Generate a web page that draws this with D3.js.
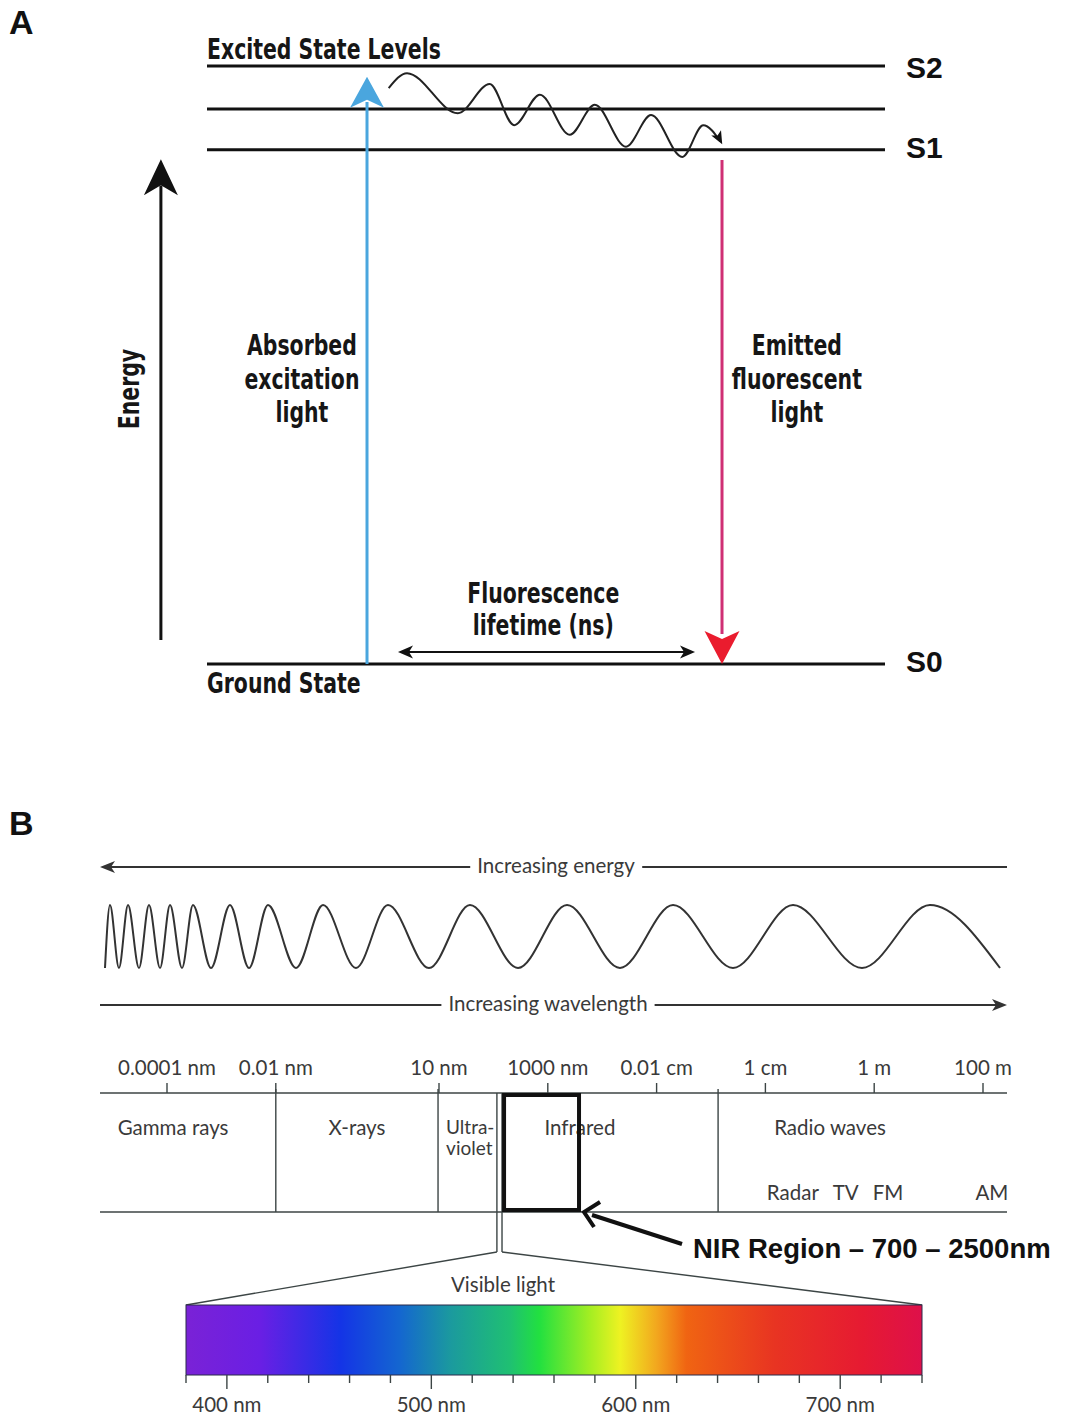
<!DOCTYPE html>
<html>
<head>
<meta charset="utf-8">
<script src="https://cdn.jsdelivr.net/npm/d3@7"></script>
<style>
body { margin: 0; background: #fff; }
.cond { font-family: "Liberation Sans Narrow", "DejaVu Sans", sans-serif; font-weight: bold; fill: #161616; }
.arial { font-family: "Liberation Sans", Arial, sans-serif; font-weight: bold; fill: #111; }
.geo { font-family: Lato, "Open Sans", sans-serif; fill: #3a3a3a; }
</style>
</head>
<body>
<div id="chart"></div>
<script>

// ---- panel A data (energy levels, energy in % of S0..S2, x in % of level width)
var levelNames  = ["S0", "S1", "", "S2"];
var levelEnergy = [0, 86, 92.8, 100];

// vibrational relaxation squiggle
var relaxX = [26.8, 29.5, 37.0, 41.7, 45.3, 49.1, 53.5, 57.2, 61.8, 65.5, 70.1, 73.2, 75.7];
var relaxE = [96.3, 98.8, 92.1, 97.0, 90.1, 95.2, 88.5, 93.5, 86.5, 91.8, 84.8, 90.1, 87.4];

var absorbLabel = ["Absorbed", "excitation", "light"];
var emitLabel = ["Emitted", "fluorescent", "light"];
var lifetimeLabel = ["Fluorescence", "lifetime (ns)"];

// ---- panel B data
var tickValues = [1e-13, 1e-11, 1e-8, 1e-6, 1e-4, 1e-2, 1, 100];
var tickLabels = ["0.0001 nm", "0.01 nm", "10 nm", "1000 nm", "0.01 cm", "1 cm", "1 m", "100 m"];
var dividers = [1e-11, 9.6e-9, 1.35e-3];
var visibleBand = [1.16e-7, 1.44e-7];
var nirBox = [1.57e-7, 3.75e-6];

var bandNames = ["Gamma rays", "X-rays", "Infrared", "Radio waves"];
var bandAt = [1.29e-13, 3.1e-10, 3.9e-6, 0.154];
var radioNames = ["Radar", "TV", "FM", "AM"];
var radioAt = [0.032, 0.30, 1.8, 146];
var uvAt = 1.35e-8;

// wave extrema (percent of the arrow width), alternating trough / crest
var waveX = [0.55, 1.10, 2.09, 3.09, 4.30, 5.40, 6.62, 7.72, 9.04, 10.25, 12.24, 14.33, 16.43,
    18.52, 21.61, 24.59, 28.22, 31.75, 36.27, 40.79, 46.09, 51.49, 57.33, 63.18, 69.79,
    76.41, 84.01, 91.51, 99.23];

// visible spectrum
var specTicks = d3.range(380, 741, 20);
var specLabels = [400, 500, 600, 700];
var specStops = [
    [0.00, "#7a22d6"], [0.10, "#6a1fe4"], [0.21, "#1434e6"], [0.29, "#1466d0"],
    [0.36, "#1b9a9e"], [0.44, "#1fc072"], [0.48, "#22e040"], [0.55, "#a6ee22"],
    [0.59, "#eef222"], [0.64, "#f2a61e"], [0.68, "#f06412"], [0.80, "#e83422"],
    [0.92, "#e61a32"], [1.00, "#de104a"]
];

var W = 1065, H = 1416;
var svg = d3.select("#chart").append("svg")
    .attr("width", W)
    .attr("height", H);

// arrowhead with notched back, tip at (x,y)
function head(g, x, y, ang, len, wid, notch, fill) {
    g.append("path")
        .attr("d", "M0,0L" + (-len) + "," + (-wid / 2) + "L" + (-len + notch) + ",0L" + (-len) + "," + (wid / 2) + "Z")
        .attr("transform", "translate(" + x + "," + y + ") rotate(" + ang + ")")
        .attr("fill", fill);
}

// bold text squeezed sideways to look like a condensed face
function condText(g, x, y, txt, anchor, rot) {
    return g.append("text").attr("class", "cond")
        .attr("transform", "translate(" + x + "," + y + ")" + (rot ? " rotate(" + rot + ")" : "") + " scale(0.73,1)")
        .attr("text-anchor", anchor || "start")
        .style("font-size", "28px")
        .text(txt);
}

/* ================= Panel A ================= */
var gA = svg.append("g");
var xA = d3.scaleLinear().domain([0, 100]).range([207, 885]);
var yA = d3.scaleLinear().domain([0, 100]).range([664, 66]);

gA.append("text").attr("class", "arial").attr("x", 9).attr("y", 34)
    .style("font-size", "34px").text("A");

gA.selectAll(".level")
    .data(levelEnergy)
    .enter().append("line")
    .attr("class", "level")
    .attr("x1", xA(0)).attr("x2", xA(100))
    .attr("y1", function(d) { return yA(d); })
    .attr("y2", function(d) { return yA(d); })
    .attr("stroke", "#111").attr("stroke-width", 3);

gA.selectAll(".lname")
    .data(levelNames)
    .enter().append("text")
    .attr("class", "arial lname")
    .attr("x", xA(103.1))
    .attr("y", function(d, i) { return yA(levelEnergy[i]) + (i === 3 ? 12 : 8); })
    .style("font-size", "30px")
    .text(function(d) { return d; });

condText(gA, xA(0), 59, "Excited State Levels");
condText(gA, xA(0), 693, "Ground State");

// energy axis arrow
gA.append("line")
    .attr("x1", xA(-6.8)).attr("x2", xA(-6.8))
    .attr("y1", yA(4)).attr("y2", yA(80))
    .attr("stroke", "#111").attr("stroke-width", 3);
head(gA, xA(-6.8), yA(84.4), -90, 36, 34, 10, "#111");
condText(gA, 139, 389, "Energy", "middle", -90);

// absorbed (blue) arrow
gA.append("line")
    .attr("x1", xA(23.6)).attr("x2", xA(23.6))
    .attr("y1", yA(0)).attr("y2", yA(94))
    .attr("stroke", "#4aa6de").attr("stroke-width", 3);
head(gA, xA(23.6), yA(98.2), -90, 31, 34, 8, "#4aa6de");

// emitted (red) arrow
gA.append("line")
    .attr("x1", xA(75.96)).attr("x2", xA(75.96))
    .attr("y1", yA(84.3)).attr("y2", yA(5))
    .attr("stroke", "#cf2f74").attr("stroke-width", 3);
head(gA, xA(75.96), yA(0), 90, 33, 35, 8, "#ea1c2e");

// relaxation squiggle
var relaxLine = d3.line()
    .x(function(d, i) { return xA(d); })
    .y(function(d, i) { return yA(relaxE[i]); })
    .curve(d3.curveMonotoneX);
gA.append("path")
    .attr("d", relaxLine(relaxX))
    .attr("fill", "none").attr("stroke", "#222").attr("stroke-width", 2);
head(gA, xA(relaxX[relaxX.length - 1]) + 2, yA(relaxE[relaxE.length - 1]) + 3, 62, 13, 11, 3, "#111");

// lifetime double arrow
gA.append("line")
    .attr("x1", xA(29.5)).attr("x2", xA(70.6))
    .attr("y1", yA(2)).attr("y2", yA(2))
    .attr("stroke", "#111").attr("stroke-width", 2);
head(gA, xA(28.17), yA(2), 180, 15, 13, 4, "#111");
head(gA, xA(71.98), yA(2), 0, 15, 13, 4, "#111");

function block(lines, cx, y0, dy) {
    lines.forEach(function(t, i) {
        condText(gA, cx, y0 + i * dy, t, "middle");
    });
}
block(absorbLabel, xA(14.0), 355, 33.5);
block(emitLabel, xA(87.0), 355, 33.5);
block(lifetimeLabel, xA(49.6), 603, 32);

/* ================= Panel B ================= */
var gB = svg.append("g");
var ink = "#3c4545";
var fs = "20.5px";

gB.append("text").attr("class", "arial").attr("x", 9).attr("y", 835)
    .style("font-size", "34px").text("B");

var xW = d3.scaleLinear().domain([0, 100]).range([100, 1007]);

// arrow with caption in a gap
function captionArrow(label, cx, y, dir) {
    var t = gB.append("text").attr("class", "geo")
        .attr("x", cx).attr("y", y + 6)
        .attr("text-anchor", "middle")
        .style("font-size", fs).text(label);
    var bb = t.node().getBBox();
    gB.append("line").attr("x1", xW(0) + (dir < 0 ? 4 : 0)).attr("x2", bb.x - 7)
        .attr("y1", y).attr("y2", y).attr("stroke", "#333").attr("stroke-width", 2);
    gB.append("line").attr("x1", bb.x + bb.width + 7).attr("x2", xW(100) - (dir > 0 ? 4 : 0))
        .attr("y1", y).attr("y2", y).attr("stroke", "#333").attr("stroke-width", 2);
    if (dir < 0) head(gB, xW(0), y, 180, 15, 12, 4, "#333");
    else head(gB, xW(100), y, 0, 15, 12, 4, "#333");
}
captionArrow("Increasing energy", 556, 867, -1);
captionArrow("Increasing wavelength", 548, 1005, 1);

// the wave
var yWave = d3.scaleLinear().domain([-1, 1]).range([968, 905]);
var waveLine = d3.line()
    .x(function(d) { return xW(d); })
    .y(function(d, i) { return yWave(i % 2 === 0 ? -1 : 1); })
    .curve(d3.curveMonotoneX);
gB.append("path")
    .attr("d", waveLine(waveX))
    .attr("fill", "none").attr("stroke", "#333").attr("stroke-width", 2);

// log wavelength scale
var xL = d3.scaleLog().domain([1e-13, 1e2]).range([167, 983]);
var yTop = 1093, yBot = 1212;

[yTop, yBot].forEach(function(y) {
    gB.append("line").attr("x1", xW(0)).attr("x2", xW(100))
        .attr("y1", y).attr("y2", y).attr("stroke", ink).attr("stroke-width", 1.6);
});

gB.selectAll(".tick")
    .data(tickValues)
    .enter().append("line")
    .attr("x1", function(d) { return xL(d); })
    .attr("x2", function(d) { return xL(d); })
    .attr("y1", 1083).attr("y2", yTop)
    .attr("stroke", ink).attr("stroke-width", 1.4);

gB.selectAll(".tlab")
    .data(tickLabels)
    .enter().append("text")
    .attr("class", "geo")
    .attr("x", function(d, i) { return xL(tickValues[i]); })
    .attr("y", 1075)
    .attr("text-anchor", "middle")
    .style("font-size", fs)
    .text(function(d) { return d; });

gB.selectAll(".div")
    .data(dividers)
    .enter().append("line")
    .attr("x1", function(d) { return xL(d); })
    .attr("x2", function(d) { return xL(d); })
    .attr("y1", 1089).attr("y2", yBot)
    .attr("stroke", ink).attr("stroke-width", 1.4);

// visible band pair, running down to the fan
var yFan = 1252, ySpec = 1305, ySpecB = 1375;
var xS = d3.scaleLinear().domain([380, 740]).range([186, 922]);

visibleBand.forEach(function(v, i) {
    gB.append("line").attr("x1", xL(v)).attr("x2", xL(v))
        .attr("y1", yTop).attr("y2", yFan).attr("stroke", ink).attr("stroke-width", 1.4);
    gB.append("line").attr("x1", xL(v)).attr("x2", xS(i === 0 ? 380 : 740))
        .attr("y1", yFan).attr("y2", ySpec).attr("stroke", ink).attr("stroke-width", 1.4);
});

gB.selectAll(".band")
    .data(bandNames)
    .enter().append("text")
    .attr("class", "geo")
    .attr("x", function(d, i) { return xL(bandAt[i]); })
    .attr("y", 1135)
    .attr("text-anchor", "middle")
    .style("font-size", fs)
    .text(function(d) { return d; });

gB.append("text").attr("class", "geo").attr("x", xL(uvAt)).attr("y", 1134)
    .style("font-size", "19px").text("Ultra-");
gB.append("text").attr("class", "geo").attr("x", xL(uvAt)).attr("y", 1155)
    .style("font-size", "19px").text("violet");

gB.selectAll(".radio")
    .data(radioNames)
    .enter().append("text")
    .attr("class", "geo")
    .attr("x", function(d, i) { return xL(radioAt[i]); })
    .attr("y", 1200)
    .attr("text-anchor", "middle")
    .style("font-size", fs)
    .text(function(d) { return d; });

// NIR highlight
gB.append("rect")
    .attr("x", xL(nirBox[0])).attr("y", yTop + 2)
    .attr("width", xL(nirBox[1]) - xL(nirBox[0]))
    .attr("height", yBot - yTop - 4)
    .attr("fill", "none").attr("stroke", "#111").attr("stroke-width", 4);

var nirTip = [xL(nirBox[1]) + 5, yBot];
gB.append("line")
    .attr("x1", nirTip[0] + 8).attr("y1", nirTip[1] + 3)
    .attr("x2", 682).attr("y2", 1244)
    .attr("stroke", "#111").attr("stroke-width", 4);
gB.append("path")
    .attr("d", "M" + (nirTip[0] + 16) + "," + (nirTip[1] - 10) + "L" + nirTip[0] + "," + nirTip[1] +
        "L" + (nirTip[0] + 10) + "," + (nirTip[1] + 15))
    .attr("fill", "none").attr("stroke", "#111").attr("stroke-width", 4)
    .attr("stroke-linejoin", "miter");
gB.append("text").attr("class", "arial").attr("x", 693).attr("y", 1258)
    .style("font-size", "27.5px").text("NIR Region \u2013 700 \u2013 2500nm");

// visible spectrum
gB.append("text").attr("class", "geo").attr("x", 503).attr("y", 1292)
    .attr("text-anchor", "middle").style("font-size", fs).text("Visible light");

var grad = svg.append("defs").append("linearGradient").attr("id", "spec");
grad.selectAll("stop")
    .data(specStops)
    .enter().append("stop")
    .attr("offset", function(d) { return d[0]; })
    .attr("stop-color", function(d) { return d[1]; });

gB.append("rect")
    .attr("x", xS(380)).attr("y", ySpec)
    .attr("width", xS(740) - xS(380)).attr("height", ySpecB - ySpec)
    .attr("fill", "url(#spec)")
    .attr("stroke", "#2a2a4a").attr("stroke-width", 1);

gB.selectAll(".stick")
    .data(specTicks)
    .enter().append("line")
    .attr("x1", function(d) { return xS(d); })
    .attr("x2", function(d) { return xS(d); })
    .attr("y1", ySpecB)
    .attr("y2", function(d) { return d % 100 === 0 ? ySpecB + 14 : ySpecB + 8; })
    .attr("stroke", ink).attr("stroke-width", 1.4);

gB.selectAll(".slab")
    .data(specLabels)
    .enter().append("text")
    .attr("class", "geo")
    .attr("x", function(d) { return xS(d); })
    .attr("y", 1412)
    .attr("text-anchor", "middle")
    .style("font-size", fs)
    .text(function(d) { return d + " nm"; });

</script>
</body>
</html>
